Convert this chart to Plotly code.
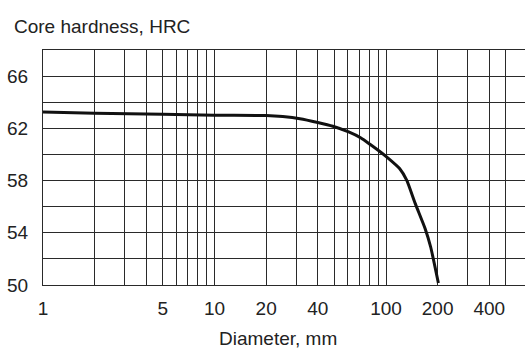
import plotly.graph_objects as go

diameter = [1, 2, 5, 10, 20, 25, 31.5, 40, 49, 60.6, 71.5, 81, 90, 102, 120, 132, 148, 169, 182, 202]
hardness = [63.25, 63.15, 63.07, 63.0, 62.98, 62.9, 62.74, 62.45, 62.16, 61.72, 61.26, 60.76, 60.32, 59.76, 58.92, 58.03, 56.25, 54.33, 52.93, 50.15]

x_grid = [1, 2, 3, 4, 5, 6, 7, 8, 9, 10, 20, 30, 40, 50, 60, 70, 80, 90, 100, 200, 300, 400, 500]
x_labeled = {1: "1", 5: "5", 10: "10", 20: "20", 40: "40", 100: "100", 200: "200", 400: "400"}
y_grid = [50, 52, 54, 56, 58, 60, 62, 64, 66, 68]
y_labeled = {50: "50", 54: "54", 58: "58", 62: "62", 66: "66"}

FONT = "Liberation Sans, Arial, sans-serif"
TXT = "#222222"
GRID = "#2a2a2a"

fig = go.Figure()
fig.add_trace(go.Scatter(
    x=diameter, y=hardness, mode="lines",
    line=dict(color="#111111", width=3, shape="spline", smoothing=0.5),
    hoverinfo="skip", showlegend=False,
))

fig.update_layout(
    width=525, height=350,
    margin=dict(l=43, r=0, t=50, b=65),
    paper_bgcolor="white", plot_bgcolor="white",
    font=dict(family=FONT, size=19, color=TXT),
    xaxis=dict(
        type="log", range=[0, 2.8105],
        tickmode="array", tickvals=x_grid,
        ticktext=[x_labeled.get(v, "") for v in x_grid],
        showgrid=True, gridcolor=GRID, gridwidth=1,
        showline=True, linecolor=GRID, linewidth=1, mirror=True,
        ticks="", zeroline=False,
        tickfont=dict(size=19, color=TXT),
        ticklabelstandoff=6,
    ),
    yaxis=dict(
        range=[50, 68],
        tickmode="array", tickvals=y_grid,
        ticktext=[y_labeled.get(v, "") for v in y_grid],
        showgrid=True, gridcolor=GRID, gridwidth=1,
        showline=True, linecolor=GRID, linewidth=1, mirror=False,
        ticks="", zeroline=False,
        tickfont=dict(size=19, color=TXT),
        ticklabelstandoff=10,
    ),
    annotations=[
        dict(text="Core hardness, HRC", xref="paper", yref="paper",
             x=-31 / 482, y=(285 - 26) / 235, xanchor="left", yanchor="middle",
             showarrow=False, font=dict(size=19, color=TXT)),
        dict(text="Diameter, mm", xref="paper", yref="paper",
             x=(278.3 - 43) / 482, y=(285 - 350) / 235, xanchor="center", yanchor="bottom",
             showarrow=False, font=dict(size=19, color=TXT), borderpad=0),
    ],
)

fig.write_html("out.html")
